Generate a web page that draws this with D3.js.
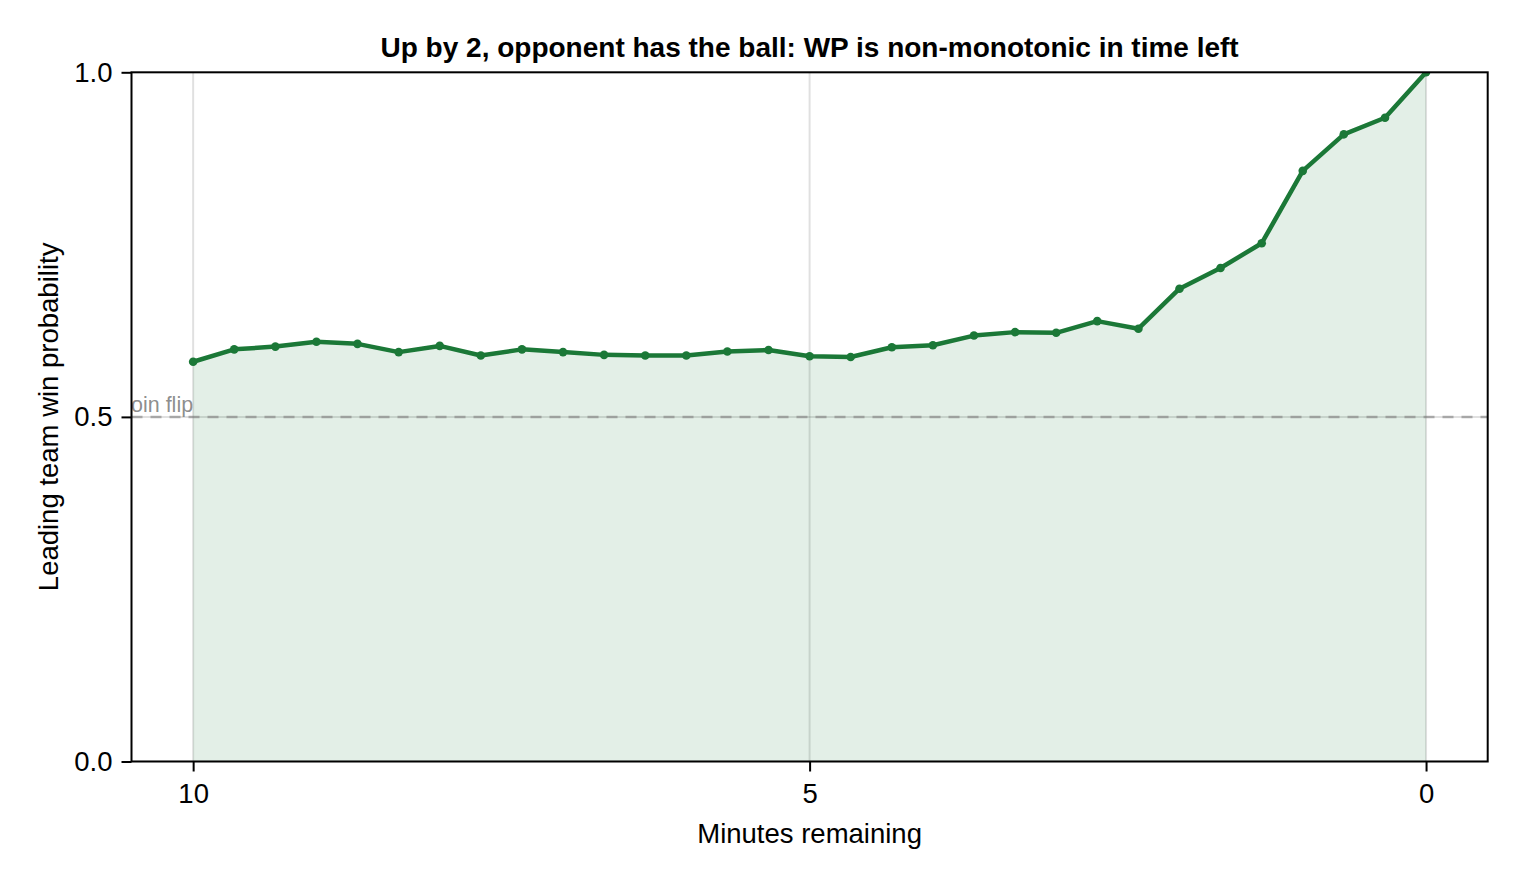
<!DOCTYPE html>
<html>
<head>
<meta charset="utf-8">
<script src="https://cdn.jsdelivr.net/npm/d3@7"></script>
<style>
    html, body { margin: 0; padding: 0; background: #fff; }
    svg { display: block; font-family: "Liberation Sans", Arial, Helvetica, sans-serif; }
</style>
</head>
<body>
<svg id="chart" width="1520" height="880"></svg>
<script>
// --- Data ---
const minutesLeft = [
    10, 9.667, 9.333, 9, 8.667, 8.333, 8, 7.667, 7.333, 7, 6.667,
    6.333, 6, 5.667, 5.333, 5, 4.667, 4.333, 4, 3.667, 3.333,
    3, 2.667, 2.333, 2, 1.667, 1.333, 1, 0.667, 0.333, 0
];
const winProb = [
    0.580, 0.598, 0.602, 0.609, 0.606, 0.594, 0.603, 0.589, 0.598, 0.594, 0.590,
    0.589, 0.589, 0.595, 0.597, 0.588, 0.587, 0.601, 0.604, 0.618, 0.623,
    0.622, 0.639, 0.628, 0.686, 0.716, 0.752, 0.857, 0.910, 0.934, 1.000
];
const xTicks = [10, 5, 0];
const yTicks = [0, 0.5, 1];
const yTickLabels = ['0.0', '0.5', '1.0'];
const refLevel = 0.5;
const refLabel = 'coin flip';

const TITLE = 'Up by 2, opponent has the ball: WP is non-monotonic in time left';
const X_LABEL = 'Minutes remaining';
const Y_LABEL = 'Leading team win probability';

(function () {
    const GREEN = '#1b7837';
    const svg = d3.select('#chart');

    // Plot frame (pixel box of the axes)
    const frame = { left: 131.5, top: 72.3, right: 1487.7, bottom: 761.5 };

    const x = d3.scaleLinear().domain([10.5, -0.5]).range([frame.left, frame.right]);
    const y = d3.scaleLinear().domain([0, 1]).range([frame.bottom, frame.top]);

    const points = minutesLeft.map((m, i) => ({ m: m, p: winProb[i] }));

    svg.append('defs').append('clipPath').attr('id', 'plot-clip')
        .append('rect')
        .attr('x', frame.left).attr('y', frame.top)
        .attr('width', frame.right - frame.left)
        .attr('height', frame.bottom - frame.top);

    const plot = svg.append('g').attr('clip-path', 'url(#plot-clip)');

    // --- Grid ---
    plot.selectAll('.vgrid').data(xTicks).enter().append('line')
        .attr('class', 'vgrid')
        .attr('x1', d => x(d)).attr('x2', d => x(d))
        .attr('y1', frame.top).attr('y2', frame.bottom)
        .attr('stroke', '#000').attr('stroke-opacity', 0.12).attr('stroke-width', 2);

    plot.selectAll('.hgrid').data(yTicks).enter().append('line')
        .attr('class', 'hgrid')
        .attr('x1', frame.left).attr('x2', frame.right)
        .attr('y1', d => y(d)).attr('y2', d => y(d))
        .attr('stroke', '#000').attr('stroke-opacity', 0.12).attr('stroke-width', 2);

    // --- Area under the curve ---
    const area = d3.area()
        .x(d => x(d.m))
        .y0(y(0))
        .y1(d => y(d.p));

    plot.append('path')
        .datum(points)
        .attr('d', area)
        .attr('fill', GREEN)
        .attr('fill-opacity', 0.12);

    // --- Coin flip reference ---
    plot.append('line')
        .attr('x1', frame.left).attr('x2', frame.right)
        .attr('y1', y(refLevel)).attr('y2', y(refLevel))
        .attr('stroke', '#808080').attr('stroke-opacity', 0.6)
        .attr('stroke-width', 2.5)
        .attr('stroke-dasharray', '11 8');

    plot.append('text')
        .attr('x', x(10))
        .attr('y', y(refLevel) - 5)
        .attr('text-anchor', 'end')
        .attr('font-size', 21.5)
        .attr('fill', '#808080')
        .attr('fill-opacity', 0.9)
        .text(refLabel);

    // --- Line + markers ---
    const line = d3.line().x(d => x(d.m)).y(d => y(d.p));

    plot.append('path')
        .datum(points)
        .attr('d', line)
        .attr('fill', 'none')
        .attr('stroke', GREEN)
        .attr('stroke-width', 4.5)
        .attr('stroke-linejoin', 'round');

    plot.selectAll('.wp-dot').data(points).enter().append('circle')
        .attr('class', 'wp-dot')
        .attr('cx', d => x(d.m))
        .attr('cy', d => y(d.p))
        .attr('r', 4.3)
        .attr('fill', GREEN);

    // --- Axes ---
    const xAxis = d3.axisBottom(x).tickValues(xTicks).tickFormat(d3.format('d'))
        .tickSizeInner(10).tickSizeOuter(0).tickPadding(12);
    const yAxis = d3.axisLeft(y).tickValues(yTicks).tickFormat((d, i) => yTickLabels[i])
        .tickSizeInner(10).tickSizeOuter(0).tickPadding(9);

    const gx = svg.append('g').attr('transform', `translate(0,${frame.bottom})`).call(xAxis);
    const gy = svg.append('g').attr('transform', `translate(${frame.left},0)`).call(yAxis);

    [gx, gy].forEach(g => {
        g.select('.domain').remove();
        g.selectAll('.tick line').attr('stroke', '#000').attr('stroke-width', 2);
        g.selectAll('.tick text')
            .attr('font-size', 27.5)
            .attr('fill', '#000')
            .style('font-family', '"Liberation Sans", Arial, sans-serif');
    });

    // Frame box
    svg.append('rect')
        .attr('x', frame.left).attr('y', frame.top)
        .attr('width', frame.right - frame.left)
        .attr('height', frame.bottom - frame.top)
        .attr('fill', 'none')
        .attr('stroke', '#000')
        .attr('stroke-width', 2);

    // --- Labels ---
    const cx = (frame.left + frame.right) / 2;

    svg.append('text')
        .attr('x', cx).attr('y', 57)
        .attr('text-anchor', 'middle')
        .attr('font-size', 28)
        .attr('font-weight', 'bold')
        .text(TITLE);

    svg.append('text')
        .attr('x', cx).attr('y', 843)
        .attr('text-anchor', 'middle')
        .attr('font-size', 27.5)
        .text(X_LABEL);

    svg.append('text')
        .attr('transform', `translate(58,${(frame.top + frame.bottom) / 2}) rotate(-90)`)
        .attr('text-anchor', 'middle')
        .attr('font-size', 27.5)
        .text(Y_LABEL);
})();
</script>
</body>
</html>
